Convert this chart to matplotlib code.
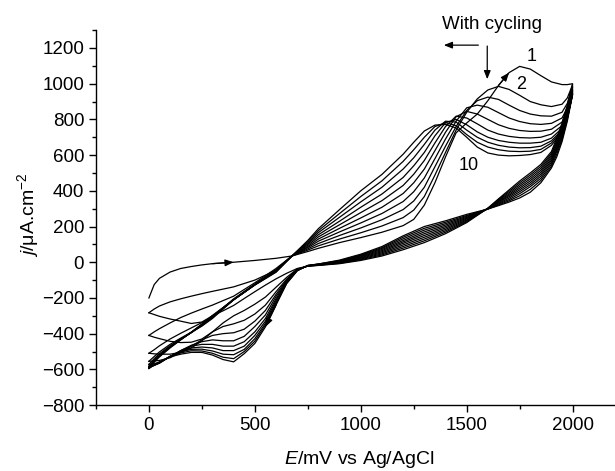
import matplotlib
matplotlib.use('Agg')
import matplotlib.pyplot as plt
from matplotlib.ticker import MultipleLocator

plt.rcParams['font.family'] = ['Liberation Sans', 'DejaVu Sans']
plt.rcParams['mathtext.fontset'] = 'custom'
plt.rcParams['mathtext.rm'] = 'Liberation Sans'
plt.rcParams['mathtext.it'] = 'Liberation Sans:italic'

# potentials (mV vs Ag/AgCl) of forward (anodic) and reverse (cathodic) sweeps
E_fwd = [0, 25, 50, 100, 150, 200, 250, 300, 400, 500, 600, 675, 750, 800, 900, 1000, 1100, 1200,
         1250, 1300, 1350, 1400, 1450, 1500, 1550, 1600, 1650, 1700, 1750, 1800, 1850, 1900, 1950, 1975, 2000]
E_rev = [2000, 1975, 1950, 1925, 1900, 1850, 1800, 1750, 1700, 1650, 1600, 1500, 1400, 1300, 1200, 1100,
         1000, 900, 800, 750, 700, 650, 600, 550, 500, 450, 400, 350, 300, 250, 200, 150, 100, 50, 25, 0]

# current density (uA/cm2), forward sweep of cycles 1..10
fwd_1 = [-200, -125, -90, -55, -35, -24, -15, -8, 0, 10, 22, 35,
         60, 78, 110, 138, 168, 205, 240, 320, 445, 590, 725,
         780, 830, 905, 990, 1062, 1097, 1082, 1045, 1010, 995, 995, 1000]
fwd_2 = [-283, -262, -245, -222, -205, -190, -176, -163, -138, -100, -45, 35,
         68, 92, 130, 165, 203, 250, 292, 368, 488, 615, 740,
         840, 915, 965, 985, 968, 935, 900, 882, 872, 885, 920, 995]
fwd_3 = [-410, -390, -372, -340, -310, -285, -262, -240, -190, -115, -35, 35,
         75, 105, 150, 192, 238, 295, 343, 420, 535, 650, 760,
         850, 905, 925, 912, 880, 850, 830, 820, 818, 840, 890, 988]
fwd_4 = [-510, -490, -468, -430, -398, -368, -338, -305, -205, -122, -42, 35,
         82, 118, 170, 220, 273, 340, 395, 472, 580, 690, 790,
         865, 880, 868, 838, 808, 788, 776, 772, 778, 808, 865, 980]
fwd_5 = [-555, -528, -502, -460, -425, -392, -358, -315, -210, -125, -46, 35,
         88, 130, 190, 248, 308, 385, 445, 522, 625, 728, 815,
         845, 830, 800, 770, 750, 738, 733, 734, 745, 785, 850, 972]
fwd_6 = [-572, -540, -512, -468, -430, -395, -355, -310, -210, -125, -48, 35,
         95, 142, 210, 278, 345, 430, 493, 570, 668, 760, 818,
         808, 775, 740, 718, 705, 698, 696, 700, 718, 765, 835, 965]
fwd_7 = [-582, -548, -520, -472, -432, -394, -352, -306, -210, -125, -50, 35,
         102, 154, 230, 308, 382, 475, 540, 615, 708, 782, 800,
         770, 730, 700, 682, 672, 667, 667, 672, 695, 750, 825, 958]
fwd_8 = [-586, -552, -524, -475, -433, -393, -350, -303, -210, -126, -52, 35,
         108, 166, 252, 338, 420, 522, 585, 660, 740, 790, 785,
         740, 700, 672, 655, 645, 641, 642, 650, 680, 740, 815, 950]
fwd_9 = [-590, -556, -527, -477, -434, -392, -348, -300, -210, -127, -54, 35,
         115, 177, 273, 368, 456, 565, 630, 700, 760, 782, 765,
         715, 672, 645, 630, 622, 620, 622, 632, 668, 735, 810, 945]
fwd_10 = [-593, -560, -530, -480, -435, -392, -346, -298, -210, -128, -56, 35,
          122, 188, 295, 400, 492, 605, 672, 735, 768, 772, 752,
          700, 645, 612, 600, 596, 598, 603, 615, 655, 730, 808, 940]

# reverse sweep of cycles 1..10
rev_1 = [1000, 880, 780, 695, 620, 548, 500, 455, 405, 355, 303,
         222, 160, 110, 70, 35, 10, -8, -18, -22,
         -35, -62, -93, -128, -165, -203, -242, -272, -300, -335, -343, -330, -318, -303, -293, -283]
rev_2 = [995, 872, 768, 683, 610, 537, 489, 445, 397, 351, 302,
         227, 168, 120, 79, 41, 14, -6, -17, -22,
         -38, -85, -140, -195, -235, -270, -300, -340, -390, -430, -448, -450, -443, -428, -420, -410]
rev_3 = [988, 862, 756, 672, 600, 526, 478, 435, 389, 347, 302,
         232, 176, 130, 88, 47, 18, -4, -16, -21,
         -40, -95, -165, -240, -290, -325, -345, -360, -390, -440, -480, -505, -515, -515, -513, -510]
rev_4 = [980, 852, 745, 661, 590, 515, 467, 425, 381, 343, 301,
         237, 184, 140, 97, 53, 22, -2, -15, -21,
         -42, -100, -180, -270, -330, -375, -395, -400, -410, -435, -470, -505, -535, -550, -553, -555]
rev_5 = [972, 843, 733, 650, 580, 504, 456, 415, 374, 339, 300,
         242, 192, 150, 106, 59, 26, 0, -14, -20,
         -43, -105, -192, -295, -360, -415, -440, -440, -435, -445, -465, -495, -530, -560, -568, -572]
rev_6 = [965, 834, 722, 640, 570, 493, 445, 405, 367, 335, 300,
         247, 200, 160, 114, 65, 30, 2, -13, -20,
         -44, -108, -205, -315, -390, -445, -470, -470, -460, -460, -470, -495, -528, -565, -575, -582]
rev_7 = [958, 824, 710, 630, 560, 482, 434, 395, 359, 330, 299,
         252, 208, 170, 122, 71, 34, 5, -12, -19,
         -45, -112, -215, -330, -410, -470, -495, -495, -480, -475, -480, -498, -528, -565, -578, -586]
rev_8 = [950, 814, 698, 620, 549, 470, 423, 384, 351, 326, 299,
         257, 216, 180, 131, 77, 38, 7, -11, -19,
         -46, -115, -225, -342, -428, -488, -518, -515, -497, -487, -488, -502, -527, -563, -578, -590]
rev_9 = [945, 802, 687, 605, 538, 458, 408, 372, 344, 321, 298,
         262, 224, 190, 140, 82, 41, 9, -10, -18,
         -47, -118, -233, -352, -442, -500, -540, -532, -510, -497, -496, -508, -527, -560, -576, -593]
rev_10 = [940, 790, 675, 590, 528, 445, 392, 360, 337, 317, 298,
          268, 232, 200, 148, 88, 45, 12, -10, -18,
          -48, -120, -240, -362, -455, -512, -558, -545, -520, -505, -505, -515, -530, -558, -574, -596]

fwd = [fwd_1, fwd_2, fwd_3, fwd_4, fwd_5, fwd_6, fwd_7, fwd_8, fwd_9, fwd_10]
rev = [rev_1, rev_2, rev_3, rev_4, rev_5, rev_6, rev_7, rev_8, rev_9, rev_10]

fig = plt.figure(figsize=(6.15, 4.71), dpi=100)
ax = fig.add_axes([0.156, 0.140, 0.844, 0.796])

for f, r in zip(fwd, rev):
    ax.plot(E_fwd + E_rev, f + r, color='k', lw=0.9)

# sweep direction arrowheads on the curves
head = dict(arrowstyle='-|>,head_length=0.5,head_width=0.2', color='k', lw=0.9,
            shrinkA=0, shrinkB=0, mutation_scale=10)
ax.annotate('', xy=(E_fwd[8], fwd_1[8]), xytext=(E_fwd[7], fwd_1[7]), arrowprops=head)
ax.annotate('', xy=(E_fwd[27], fwd_1[27]), xytext=(E_fwd[26], fwd_1[26]), arrowprops=head)
ax.annotate('', xy=(E_rev[23], rev_10[23]), xytext=(E_rev[22], rev_10[22]), arrowprops=head)

# "with cycling" arrows and cycle labels
ax.text(1621, 1332, 'With cycling', fontsize=13.5, ha='center', va='center', clip_on=False)
ax.annotate('', xy=(1392, 1216), xytext=(1555, 1216), arrowprops=head)
ax.annotate('', xy=(1597, 1025), xytext=(1597, 1211), arrowprops=head)
ax.text(1805, 1150, '1', fontsize=13, ha='center', va='center')
ax.text(1757, 995, '2', fontsize=13, ha='center', va='center')
ax.text(1510, 540, '10', fontsize=13, ha='center', va='center')

ax.set_xlim(-250, 2200)
ax.set_ylim(-800, 1300)
ax.xaxis.set_major_locator(MultipleLocator(500))
ax.xaxis.set_minor_locator(MultipleLocator(250))
ax.yaxis.set_major_locator(MultipleLocator(200))
ax.yaxis.set_minor_locator(MultipleLocator(100))
ax.spines[['top', 'right']].set_visible(False)
for s in ['left', 'bottom']:
    ax.spines[s].set_linewidth(1.0)
ax.tick_params(which='both', direction='out', width=1.0, labelsize=13.5)
ax.tick_params(which='major', length=5)
ax.tick_params(which='minor', length=3)

ax.set_xlabel(r'$E$/mV vs Ag/AgCl', fontsize=14)
ax.set_ylabel(r'$j$/μA.cm$^{-2}$', fontsize=14)
ax.xaxis.set_label_coords(0.508, -0.118)
ax.yaxis.set_label_coords(-0.106, 0.507)

plt.savefig('out.png', dpi=100)
